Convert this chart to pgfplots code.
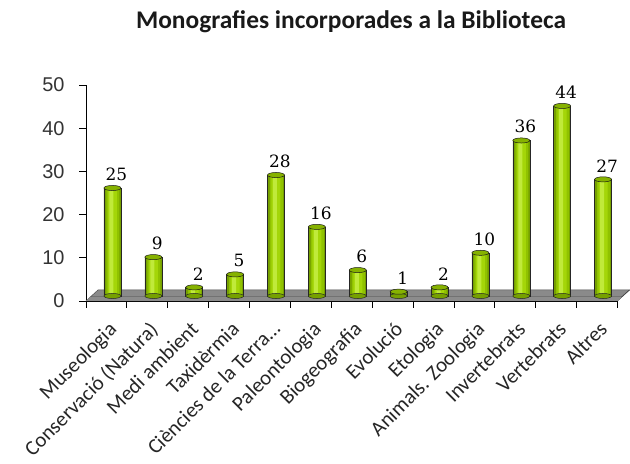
\documentclass[border=0pt]{standalone}
\usepackage{fontspec}
\setmainfont{Carlito}
\newfontfamily\arialf{Liberation Sans}
\newfontfamily\serff{DejaVu Serif}
\usepackage{pgfplots}
\usepackage{pgfplotstable}
\pgfplotsset{compat=1.18}
\definecolor{bar1}{HTML}{76A000}
\definecolor{bar2}{HTML}{90C200}
\definecolor{bar3}{HTML}{A4D608}
\definecolor{bar4}{HTML}{C0EA3A}
\definecolor{bartop}{HTML}{86B200}
\definecolor{floorgray}{HTML}{8A8A8A}

\pgfplotstableread{
x y b
0 25 0
1 9 0
2 2 0
3 5 0
4 28 0
5 16 0
6 6 0
7 1 0
8 2 0
9 10 0
10 36 0
11 44 0
12 27 0
}\datatable

\begin{document}
\begin{tikzpicture}[x=1bp,y=1bp]
\path[use as bounding box] (0,0) rectangle (630,464);
\node[font=\bfseries\fontsize{25.5}{28}\selectfont, text=black!90] at (351,442) {Monografies incorporades a la Biblioteca};
\begin{axis}[
  at={(86bp,163bp)}, anchor=south west, scale only axis,
  width=531.5bp, height=216bp,
  xmin=-0.5, xmax=12.5, ymin=0, ymax=50,
  clip=false,
  axis lines*=left,
  axis line style={black, line width=0.8pt},
  tick align=outside,
  major tick length=7bp,
  tick style={black, line width=0.8pt},
  /pgf/number format/assume math mode=true,
  ytick={0,10,20,30,40,50},
  yticklabel style={font=\arialf\fontsize{20}{20}\selectfont, text=black!80, xshift=-11bp},
  xtick={-0.5,0.5,...,12.5},
  x tick label as interval,
  xticklabels={Museologia, Conservació (Natura), Medi ambient, Taxidèrmia, {Ciències de la Terra\ldots}, Paleontologia, Biogeografia, Evolució, Etologia, Animals. Zoologia, Invertebrats, Vertebrats, Altres},
  xticklabel style={yshift=-12bp, xshift=1bp, rotate=45, anchor=north east, inner sep=0pt, font=\fontsize{21}{21}\selectfont, text=black!85},
]
% floor
\fill[floorgray, draw=black!70, line width=0.5pt] (axis cs:-0.5,0) -- (axis cs:12.5,0) -- ++(12bp,11bp) -- ([shift={(12bp,11bp)}]axis cs:-0.5,0) -- cycle;
\draw[black!75, line width=0.5pt] ([shift={(4bp,4bp)}]axis cs:-0.5,0) -- ([shift={(4bp,4bp)}]axis cs:12.5,0) -- ++(8bp,7bp);
\fill[black!45] (axis cs:-0.5,0) -- ([shift={(4bp,4bp)}]axis cs:-0.5,0) -- ([shift={(4bp,4bp)}]axis cs:12.5,0) -- (axis cs:12.5,0) -- cycle;
% bottom ellipses
\addplot[only marks, mark=*, mark size=8.5bp, mark options={yscale=0.3, fill=bar1, draw=black!85, line width=0.5pt}, xshift=6bp, yshift=5bp] table[x=x, y=b] {\datatable};
% cylinder body layers
\addplot[ybar, bar width=17bp, bar shift=6bp, yshift=5bp, fill=bar1, draw=black!85, line width=0.5pt] table[x=x, y=y] {\datatable};
\addplot[ybar, bar width=13bp, bar shift=6.5bp, yshift=5bp, fill=bar2, draw=none] table[x=x, y=y] {\datatable};
\addplot[ybar, bar width=9bp, bar shift=6bp, yshift=5bp, fill=bar3, draw=none] table[x=x, y=y] {\datatable};
\addplot[ybar, bar width=4bp, bar shift=5bp, yshift=5bp, fill=bar4, draw=none] table[x=x, y=y] {\datatable};
% top ellipses and labels
\addplot[only marks, mark=*, mark size=8.5bp, mark options={yscale=0.3, fill=bartop, draw=black!90, line width=0.5pt}, xshift=6bp, yshift=5bp,
  nodes near coords, every node near coord/.style={font=\serff\fontsize{17}{17}\selectfont, anchor=south, inner sep=0pt, yshift=7bp, xshift=4bp, text=black}] table[x=x, y=y] {\datatable};
\end{axis}
\end{tikzpicture}
\end{document}
